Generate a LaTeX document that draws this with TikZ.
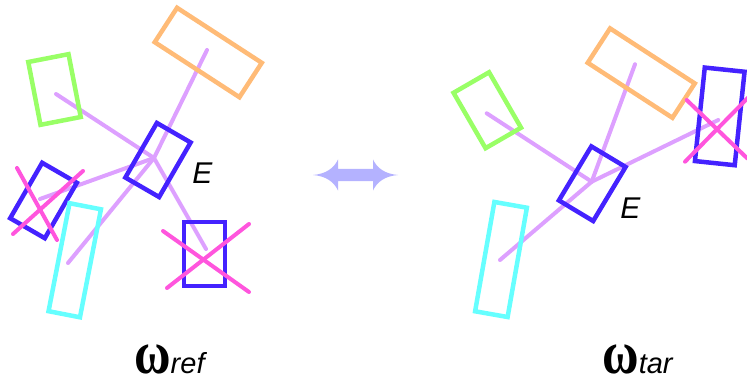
\documentclass[tikz,border=0pt]{standalone}
\usepackage{graphicx}
\usepackage{fontspec}
\setmainfont{Liberation Sans}
\newfontfamily\omegafont{Liberation Serif}
\definecolor{corange}{RGB}{255,187,119}
\definecolor{cgreen}{RGB}{153,255,102}
\definecolor{ccyan}{RGB}{102,255,255}
\definecolor{cblue}{RGB}{68,34,255}
\definecolor{cmag}{RGB}{255,85,221}
\definecolor{clink}{RGB}{221,160,255}
\definecolor{carrow}{RGB}{180,178,255}
\newcommand{\bigomega}{\scalebox{1}[1.22]{\omegafont\bfseries\fontsize{50}{50}\selectfont ω}}
\begin{document}
\begin{tikzpicture}[x=1pt,y=-1pt,
  box/.style={draw=#1, line width=4.5pt, inner sep=0pt, fill=none},
  link/.style={draw=clink, line width=4pt, line cap=round},
  xmark/.style={draw=cmag, line width=4pt, line cap=round},
  elab/.style={inner sep=0pt, font=\fontsize{30}{30}\selectfont\itshape},
  wlab/.style={inner sep=0pt, anchor=base west}]
\useasboundingbox (0,0) rectangle (747,385);
\clip (0,0) rectangle (747,385);
% ---------- left scene ----------
\coordinate (hL) at (154,158);
\coordinate (gLe) at (56,94);
\coordinate (oLe) at (207,50);
\coordinate (cLe) at (68,263);
\coordinate (xLe) at (40,199);
\coordinate (bLe) at (206,249);
\draw[link] (hL) -- (gLe);
\draw[link] (hL) -- (oLe);
\draw[link] (hL) -- (cLe);
\draw[link] (hL) -- (xLe);
\draw[link] (hL) -- (bLe);
\node[box=cgreen, minimum width=41pt, minimum height=64pt, rotate=11] (gL) at (54.5,89.5) {};
\node[box=corange, minimum width=101pt, minimum height=41pt, rotate=-33] (oL) at (208.25,52.5) {};
\node[box=cblue, minimum width=39pt, minimum height=63pt, rotate=-30] (eL) at (158,160) {};
\node[box=cblue, minimum width=40pt, minimum height=64pt, rotate=-30] (xL) at (43.5,200.5) {};
\node[box=ccyan, minimum width=32pt, minimum height=110pt, rotate=-11] (cL) at (74.75,260.25) {};
\node[box=cblue, minimum width=41pt, minimum height=64pt] (bL) at (204.5,254) {};
\draw[xmark] (17,168) -- (57,240);
\draw[xmark] (83,171) -- (13,234);
\draw[xmark] (163,231) -- (249,292);
\draw[xmark] (249,224) -- (167,288);
\node[elab] (EL) at (202.5,173) {E};
% ---------- right scene ----------
\coordinate (hR) at (591.7,181.7);
\coordinate (gRe) at (486.7,113.3);
\coordinate (oRe) at (635,64.3);
\coordinate (tRe) at (718.3,120);
\coordinate (cRe) at (500,260);
\draw[link] (hR) -- (gRe);
\draw[link] (hR) -- (oRe);
\draw[link] (hR) -- (tRe);
\draw[link] (hR) -- (cRe);
\node[box=cgreen, minimum width=41pt, minimum height=64pt, rotate=30] (gR) at (487.3,110.25) {};
\node[box=corange, minimum width=101pt, minimum height=41pt, rotate=-33] (oR) at (641.25,73.1) {};
\node[box=cblue, minimum width=40pt, minimum height=63pt, rotate=-31] (eR) at (592.25,183.7) {};
\node[box=cblue, minimum width=40pt, minimum height=94pt, rotate=-6] (tR) at (719.75,116.4) {};
\node[box=ccyan, minimum width=33pt, minimum height=111pt, rotate=-10] (cR) at (501,259.5) {};
\draw[xmark] (686.7,100) -- (747.3,158.4);
\draw[xmark] (685,161.7) -- (749,96.7);
\node[elab] (ER) at (630.3,207.8) {E};
% ---------- double arrow ----------
\path[fill=carrow] (313,175) .. controls (326,174) and (334,168) .. (338,159.5)
  -- (338,169) -- (373,169) -- (373,159.5)
  .. controls (377,168) and (385,174) .. (398,175)
  .. controls (385,176) and (377,182) .. (373,190.5)
  -- (373,181) -- (338,181) -- (338,190.5)
  .. controls (334,182) and (326,176) .. (313,175) -- cycle;
% ---------- labels ----------
\node[wlab] (wref) at (134,373) {\bigomega{\fontsize{29}{29}\selectfont\itshape ref}};
\node[wlab] (wtar) at (602,373) {\bigomega{\fontsize{29}{29}\selectfont\itshape tar}};
\end{tikzpicture}
\end{document}
